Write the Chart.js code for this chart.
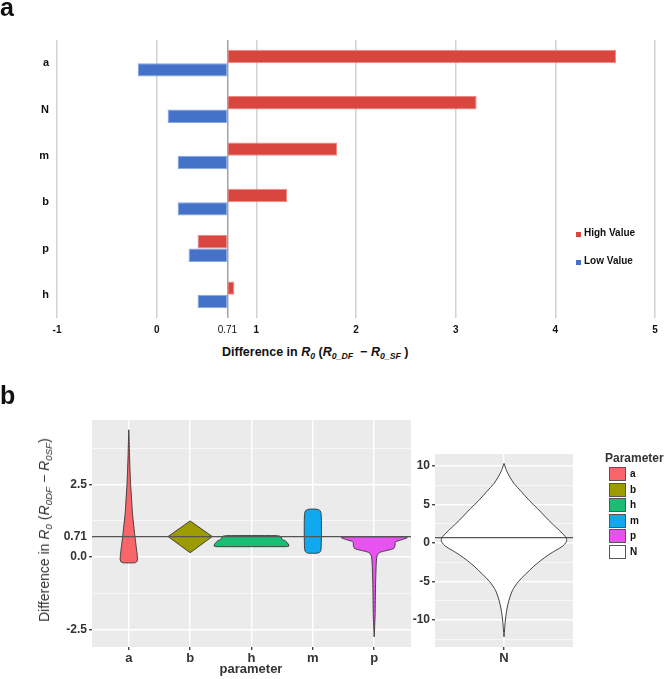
<!DOCTYPE html>
<html>
<head>
<meta charset="utf-8">
<script src="https://cdn.jsdelivr.net/npm/chart.js@4.4.1/dist/chart.umd.min.js"></script>
<style>
body{margin:0;background:#fff;font-family:"Liberation Sans",Arial,sans-serif;}
#wrap{position:relative;width:672px;height:679px;overflow:hidden;}
canvas{position:absolute;}
.t{position:absolute;white-space:nowrap;color:#111;}
.t sub{font-size:70%;vertical-align:-3px;}
.key{position:absolute;width:17px;height:14px;border:1px solid #555;box-sizing:border-box;}
</style>
</head>
<body>
<div id="wrap">
  <canvas id="cA" width="672" height="340" style="left:0;top:0"></canvas>
  <canvas id="cB" width="412" height="279" style="left:0;top:400px"></canvas>
  <canvas id="cC" width="272" height="279" style="left:400px;top:400px"></canvas>

  <div class="t" style="left:0;top:-7px;font:bold 25px 'Liberation Sans',Arial">a</div>
  <div class="t" style="left:0;top:381px;font:bold 25px 'Liberation Sans',Arial">b</div>

  <!-- panel a legend -->
  <div style="position:absolute;left:576px;top:232px;width:5px;height:5px;background:#D9453F"></div>
  <div class="t" style="left:584px;top:227px;font:bold 10px 'Liberation Sans',Arial">High Value</div>
  <div style="position:absolute;left:576px;top:260px;width:5px;height:5px;background:#4472C8"></div>
  <div class="t" style="left:584px;top:255px;font:bold 10px 'Liberation Sans',Arial">Low Value</div>

  <!-- panel a axis title -->
  <div class="t" style="left:222px;top:345px;font:bold 12.5px 'Liberation Sans',Arial">Difference in <i>R<sub>0</sub></i> (<i>R<sub>0_DF</sub></i> &nbsp;&minus; <i>R<sub>0_SF</sub></i> )</div>

  <!-- panel b axis titles -->
  <div class="t" style="left:45px;top:530px;transform:translate(-50%,-50%) rotate(-90deg);font:14px 'Liberation Sans',Arial;color:#333">Difference in <i>R<sub>0</sub></i> (<i>R<sub>0DF</sub></i> &minus; <i>R<sub>0SF</sub></i>)</div>
  <div class="t" style="left:251px;top:668px;transform:translate(-50%,-50%);font:bold 13px 'Liberation Sans',Arial;color:#333">parameter</div>

  <!-- panel b legend -->
  <div class="t" style="left:605px;top:451px;font:bold 12px 'Liberation Sans',Arial;color:#333">Parameter</div>
  <div id="legB"></div>
</div>

<script>
Chart.defaults.font.family = "'Liberation Sans', Arial, sans-serif";

/* ---------------- data : panel a ---------------- */
const rowsA  = ['a', 'N', 'm', 'b', 'p', 'h'];
const baseA  = 0.71;
const highA  = [4.61, 3.21, 1.81, 1.31, 0.41, 0.78];
const lowA   = [-0.19, 0.11, 0.21, 0.21, 0.32, 0.41];
const ticksA = [-1, 0, 0.71, 1, 2, 3, 4, 5];

/* ---------------- data : panel b ---------------- */
const paramsB  = ['a', 'b', 'h', 'm', 'p'];
const colorsB  = ['#F8656B', '#9C9C00', '#17BE74', '#10A8EE', '#E653F0'];
const yTicksB  = [-2.5, 0, 0.71, 2.5];
const yLabelsB = ['-2.5', '0.0', '0.71', '2.5'];
const yMinorB  = [-1.25, 1.25, 3.75];

// violin outlines: y value and half width (in category units)
const vA_y = [-0.2, -0.17, -0.1, 0.0, 0.2, 0.45, 0.71, 1.0, 1.5, 2.0, 2.5, 3.0, 3.5, 4.0, 4.4];
const vA_w = [0.09, 0.125, 0.14, 0.14, 0.13, 0.115, 0.10, 0.085, 0.06, 0.045, 0.03, 0.02, 0.012, 0.006, 0];
const vB_y = [0.15, 0.71, 1.25];
const vB_w = [0, 0.36, 0];
const vH_y = [0.36, 0.38, 0.45, 0.52, 0.57, 0.60, 0.66, 0.72, 0.74];
const vH_w = [0.57, 0.61, 0.60, 0.57, 0.55, 0.50, 0.49, 0.47, 0.40];
const vM_y = [0.13, 0.15, 0.2, 0.3, 0.71, 1.2, 1.5, 1.6, 1.64, 1.66];
const vM_w = [0.05, 0.1, 0.125, 0.135, 0.14, 0.14, 0.135, 0.12, 0.09, 0.04];
const vP_y = [-2.76, -2.0, -1.0, -0.3, 0.0, 0.1, 0.16, 0.2, 0.26, 0.3, 0.4, 0.5, 0.55, 0.6, 0.65, 0.68, 0.7];
const vP_w = [0, 0.015, 0.022, 0.032, 0.042, 0.06, 0.09, 0.15, 0.27, 0.32, 0.34, 0.34, 0.37, 0.45, 0.52, 0.54, 0.48];

const yTicksC  = [-10, -5, 0, 5, 10];
const yMinorC  = [-12.5, -7.5, -2.5, 2.5, 7.5];
const vN_y = [-12.2, -11, -9.6, -7.9, -6.2, -5, -4.0, -3, -2.26, -1.5, -0.95, -0.4, 0.1, 0.5, 0.9, 1.66, 2.5, 3.4, 4.5, 5.57, 6.7, 7.74, 8.6, 9.4, 10.0, 10.35];
const vN_w = [0, 0.006, 0.015, 0.035, 0.072, 0.125, 0.19, 0.26, 0.32, 0.39, 0.45, 0.51, 0.54, 0.545, 0.53, 0.48, 0.42, 0.36, 0.29, 0.217, 0.15, 0.087, 0.05, 0.022, 0.008, 0];

/* ---------------- helpers ---------------- */
function violin(center, ys, ws){
    const right = ys.map((y, i) => ({x: center + ws[i], y: y}));
    const left  = ys.map((y, i) => ({x: center - ws[i], y: y})).reverse();
    const pts = right.concat(left);
    pts.push(pts[0]);
    return pts;
}

const panelBg = {
    id: 'panelBg',
    beforeDraw(chart){
        const a = chart.chartArea, ctx = chart.ctx;
        ctx.save();
        ctx.fillStyle = '#EBEBEB';
        ctx.fillRect(a.left, a.top, a.right - a.left, a.bottom - a.top);
        ctx.restore();
    }
};

/* ---------------- panel a : tornado ---------------- */
new Chart(document.getElementById('cA'), {
    type: 'bar',
    data: {
        labels: rowsA,
        datasets: [
            {label: 'High Value', data: highA.map(v => [baseA, v]),
             backgroundColor: '#D9453F', borderColor: '#EE8A86', borderWidth: 1, borderSkipped: false},
            {label: 'Low Value', data: lowA.map(v => [baseA, v]),
             backgroundColor: '#4472C8', borderColor: '#86A6E2', borderWidth: 1, borderSkipped: false}
        ]
    },
    options: {
        indexAxis: 'y',
        responsive: false,
        animation: false,
        devicePixelRatio: 1,
        categoryPercentage: 0.58,
        barPercentage: 1,
        layout: {padding: {left: 0, right: 17, top: 40, bottom: 0}},
        plugins: {legend: {display: false}, tooltip: {enabled: false}},
        scales: {
            x: {
                type: 'linear', min: -1, max: 5,
                afterBuildTicks: s => { s.ticks = ticksA.map(v => ({value: v})); },
                afterFit: s => { s.height = 22; },
                border: {display: false},
                grid: {
                    drawTicks: false,
                    lineWidth: 1.5,
                    color: c => (c.tick && c.tick.value === baseA) ? '#A3A3A3' : '#D2D2D2'
                },
                ticks: {
                    autoSkip: false, maxRotation: 0, padding: 6, color: '#111',
                    font: c => (c.tick && c.tick.value === baseA) ? {size: 10, weight: 'normal'} : {size: 10, weight: 'bold'},
                    callback: v => (v === baseA ? '0.71' : String(v))
                }
            },
            y: {
                afterFit: s => { s.width = 57; },
                border: {display: false},
                grid: {display: false},
                ticks: {padding: 0, color: '#111', font: {size: 11, weight: 'bold'}}
            }
        }
    }
});

/* ---------------- panel b : violins a..p ---------------- */
const ysB = [vA_y, vB_y, vH_y, vM_y, vP_y];
const wsB = [vA_w, vB_w, vH_w, vM_w, vP_w];
const violinSets = paramsB.map((p, i) => ({
    label: p,
    data: violin(i + 1, ysB[i], wsB[i]),
    fill: 'shape',
    backgroundColor: colorsB[i],
    borderColor: '#333',
    borderWidth: 0.9,
    pointRadius: 0,
    tension: p === 'b' ? 0 : 0.2
}));

new Chart(document.getElementById('cB'), {
    type: 'line',
    data: {
        datasets: [
            {label: 'ref', data: [{x: 0.4, y: 0.71}, {x: 5.6, y: 0.71}],
             borderColor: '#555', borderWidth: 1.2, pointRadius: 0, fill: false}
        ].concat(violinSets)
    },
    options: {
        responsive: false,
        animation: false,
        devicePixelRatio: 1,
        layout: {padding: {left: 0, right: 1, top: 20, bottom: 0}},
        plugins: {legend: {display: false}, tooltip: {enabled: false}},
        scales: {
            x: {
                type: 'linear', min: 0.4, max: 5.6,
                afterBuildTicks: s => { s.ticks = paramsB.map((p, i) => ({value: i + 1})); },
                afterFit: s => { s.height = 32; },
                border: {display: false},
                grid: {color: '#FFFFFF', lineWidth: 1.4, tickColor: '#444', tickLength: 3},
                ticks: {autoSkip: false, maxRotation: 0, padding: 1, color: '#333',
                        font: {size: 13, weight: 'bold'},
                        callback: v => paramsB[v - 1] || ''}
            },
            y: {
                type: 'linear', min: -3.11, max: 4.74,
                afterBuildTicks: s => {
                    s.ticks = yTicksB.concat(yMinorB).sort((a, b) => a - b).map(v => ({value: v}));
                },
                afterFit: s => { s.width = 92; },
                border: {display: false},
                grid: {
                    color: c => (c.tick && c.tick.value === 0.71) ? 'rgba(0,0,0,0)' : '#FFFFFF',
                    lineWidth: c => (c.tick && yMinorB.includes(c.tick.value)) ? 0.6 : 1.4,
                    tickColor: c => (c.tick && yTicksB.includes(c.tick.value) && c.tick.value !== 0.71) ? '#444' : 'rgba(0,0,0,0)',
                    tickLength: 3
                },
                ticks: {autoSkip: false, padding: 2, color: '#333',
                        font: {size: 12, weight: 'bold'},
                        callback: v => { const k = yTicksB.indexOf(v); return k < 0 ? '' : yLabelsB[k]; }}
            }
        }
    },
    plugins: [panelBg]
});

/* ---------------- panel b : violin N ---------------- */
new Chart(document.getElementById('cC'), {
    type: 'line',
    data: {
        datasets: [
            {label: 'ref', data: [{x: 0.4, y: 0.71}, {x: 1.6, y: 0.71}],
             borderColor: '#555', borderWidth: 1.2, pointRadius: 0, fill: false},
            {label: 'N', data: violin(1, vN_y, vN_w), fill: 'shape',
             backgroundColor: '#FFFFFF', borderColor: '#444', borderWidth: 1, pointRadius: 0, tension: 0.3}
        ]
    },
    options: {
        responsive: false,
        animation: false,
        devicePixelRatio: 1,
        layout: {padding: {left: 0, right: 99, top: 54, bottom: 0}},
        plugins: {legend: {display: false}, tooltip: {enabled: false}},
        scales: {
            x: {
                type: 'linear', min: 0.4, max: 1.6,
                afterBuildTicks: s => { s.ticks = [{value: 1}]; },
                afterFit: s => { s.height = 32; },
                border: {display: false},
                grid: {color: '#FFFFFF', lineWidth: 1.4, tickColor: '#444', tickLength: 3},
                ticks: {autoSkip: false, maxRotation: 0, padding: 1, color: '#333',
                        font: {size: 13, weight: 'bold'}, callback: () => 'N'}
            },
            y: {
                type: 'linear', min: -13.5, max: 11.57,
                afterBuildTicks: s => {
                    s.ticks = yTicksC.concat(yMinorC).sort((a, b) => a - b).map(v => ({value: v}));
                },
                afterFit: s => { s.width = 35; },
                border: {display: false},
                grid: {
                    color: '#FFFFFF',
                    lineWidth: c => (c.tick && yMinorC.includes(c.tick.value)) ? 0.6 : 1.4,
                    tickColor: c => (c.tick && yTicksC.includes(c.tick.value)) ? '#444' : 'rgba(0,0,0,0)',
                    tickLength: 3
                },
                ticks: {autoSkip: false, padding: 2, color: '#333',
                        font: {size: 12, weight: 'bold'},
                        callback: v => (yTicksC.includes(v) ? String(v) : '')}
            }
        }
    },
    plugins: [panelBg]
});

/* ---------------- panel b legend ---------------- */
const legNames  = paramsB.concat(['N']);
const legColors = colorsB.concat(['#FFFFFF']);
let html = '';
legNames.forEach((n, i) => {
    const top = 467 + i * 15.5;
    html += `<div class="key" style="left:609px;top:${top}px;background:${legColors[i]}"></div>`;
    html += `<div class="t" style="left:630px;top:${top + 1}px;font:bold 10px 'Liberation Sans',Arial">${n}</div>`;
});
document.getElementById('legB').innerHTML = html;
</script>
</body>
</html>
